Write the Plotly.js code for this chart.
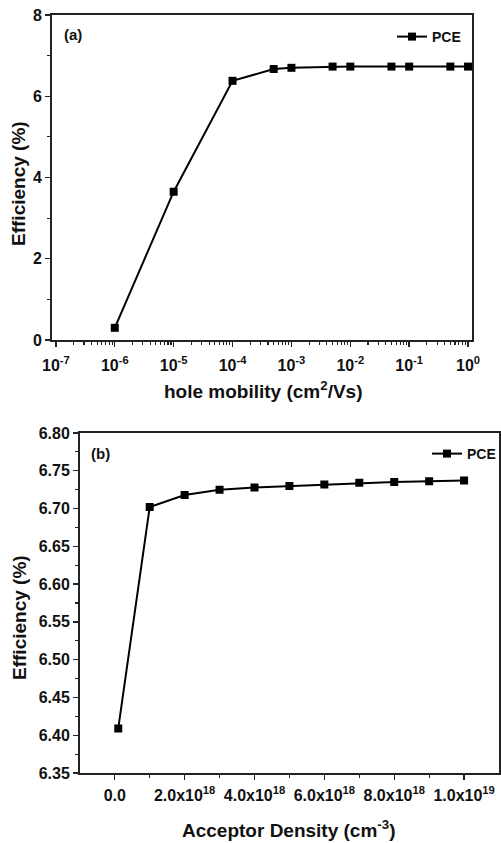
<!DOCTYPE html>
<html>
<head>
<meta charset="utf-8">
<script src="https://cdn.plot.ly/plotly-3.0.1.min.js"></script>
<style>html,body{margin:0;padding:0;background:#fff;}#chart{width:501px;height:843px;}</style>
</head>
<body>
<div id="chart"></div>
<script>
// Panel (a): hole mobility vs efficiency
const mobility = [1e-6, 1e-5, 1e-4, 5e-4, 1e-3, 5e-3, 1e-2, 5e-2, 1e-1, 5e-1, 1];
const pceMobility = [0.30, 3.65, 6.38, 6.67, 6.70, 6.73, 6.73, 6.73, 6.73, 6.73, 6.73];
const mobilityTickVals = [1e-7, 1e-6, 1e-5, 1e-4, 1e-3, 1e-2, 1e-1, 1];
const mobilityTickText = ['10<sup>-7</sup>', '10<sup>-6</sup>', '10<sup>-5</sup>', '10<sup>-4</sup>',
  '10<sup>-3</sup>', '10<sup>-2</sup>', '10<sup>-1</sup>', '10<sup>0</sup>'];

// Panel (b): acceptor density vs efficiency
const acceptorDensity = [1e17, 1e18, 2e18, 3e18, 4e18, 5e18, 6e18, 7e18, 8e18, 9e18, 1e19];
const pceDensity = [6.409, 6.702, 6.718, 6.725, 6.728, 6.730, 6.732, 6.734, 6.735, 6.736, 6.737];
const densityTickVals = [0, 2e18, 4e18, 6e18, 8e18, 1e19];
const densityTickText = ['0.0', '2.0x10<sup>18</sup>', '4.0x10<sup>18</sup>', '6.0x10<sup>18</sup>',
  '8.0x10<sup>18</sup>', '1.0x10<sup>19</sup>'];

const seriesName = 'PCE';
const panelLabels = ['(a)', '(b)'];
const yTitle = 'Efficiency (%)';
const xTitleA = 'hole mobility (cm<sup>2</sup>/Vs)';
const xTitleB = 'Acceptor Density (cm<sup>-3</sup>)';

const W = 501, H = 843;
const FONT = 'Liberation Sans, Arial, Helvetica, sans-serif';
const px = v => v / W;
const py = v => 1 - v / H;

// minor tick positions for log axis
const logMinor = [];
for (let d = -7; d < 0; d++) for (let k = 2; k <= 9; k++) logMinor.push(k * Math.pow(10, d));
const densMinor = [1e18, 3e18, 5e18, 7e18, 9e18];

const traceStyle = {
  mode: 'lines+markers',
  line: {color: '#000', width: 2},
  marker: {symbol: 'square', size: 8, color: '#000'}
};

const data = [
  Object.assign({x: mobility, y: pceMobility, name: seriesName, xaxis: 'x', yaxis: 'y', legend: 'legend'}, traceStyle),
  Object.assign({x: acceptorDensity, y: pceDensity, name: seriesName, xaxis: 'x2', yaxis: 'y2', legend: 'legend2'}, traceStyle)
];

const tickFont = {family: FONT, size: 16, color: '#111', weight: 'bold'};
const axisBase = {
  showline: true, mirror: true, linecolor: '#222', linewidth: 1.8,
  ticks: 'outside', ticklen: 5, tickwidth: 1.4, tickcolor: '#222',
  showgrid: false, zeroline: false, tickfont: tickFont
};
const minorBase = {ticks: 'outside', ticklen: 3, tickwidth: 1.1, tickcolor: '#222', showgrid: false};

const layout = {
  width: W, height: H,
  margin: {l: 0, r: 0, t: 0, b: 0},
  paper_bgcolor: '#fff', plot_bgcolor: '#fff',
  showlegend: true,
  xaxis: Object.assign({}, axisBase, {
    type: 'log', domain: [px(52), px(473)], anchor: 'y',
    range: [-7.068, 0.068], ticklabelstandoff: 5,
    tickmode: 'array', tickvals: mobilityTickVals, ticktext: mobilityTickText,
    minor: Object.assign({tickmode: 'array', tickvals: logMinor}, minorBase)
  }),
  yaxis: Object.assign({}, axisBase, {
    domain: [py(340), py(15)], anchor: 'x',
    range: [0, 8], dtick: 2, tick0: 0,
    minor: Object.assign({dtick: 1}, minorBase)
  }),
  xaxis2: Object.assign({}, axisBase, {
    domain: [px(80), px(500)], anchor: 'y2',
    range: [-1.0e18, 1.1e19], ticklabelstandoff: 2,
    tickmode: 'array', tickvals: densityTickVals, ticktext: densityTickText,
    minor: Object.assign({tickmode: 'array', tickvals: densMinor}, minorBase)
  }),
  yaxis2: Object.assign({}, axisBase, {
    domain: [py(773), py(433)], anchor: 'x2',
    range: [6.35, 6.80], dtick: 0.05, tick0: 6.35, tickformat: '.2f',
    minor: Object.assign({dtick: 0.025}, minorBase)
  }),
  legend: {
    x: px(392), y: py(37), xanchor: 'left', yanchor: 'middle',
    bgcolor: 'rgba(0,0,0,0)', itemwidth: 30,
    font: {family: FONT, size: 14, color: '#111', weight: 'bold'}
  },
  legend2: {
    x: px(428), y: py(454), xanchor: 'left', yanchor: 'middle',
    bgcolor: 'rgba(0,0,0,0)', itemwidth: 30,
    font: {family: FONT, size: 14, color: '#111', weight: 'bold'}
  },
  annotations: [
    {text: panelLabels[0], xref: 'paper', yref: 'paper', x: px(62), y: py(35), xanchor: 'left', yanchor: 'middle',
     showarrow: false, font: {family: FONT, size: 15, color: '#111', weight: 'bold'}},
    {text: panelLabels[1], xref: 'paper', yref: 'paper', x: px(89), y: py(453), xanchor: 'left', yanchor: 'middle',
     showarrow: false, font: {family: FONT, size: 15, color: '#111', weight: 'bold'}},
    {text: yTitle, xref: 'paper', yref: 'paper', x: px(19), y: py(183), xanchor: 'center', yanchor: 'middle',
     textangle: -90, showarrow: false, font: {family: FONT, size: 19, color: '#111', weight: 'bold'}},
    {text: yTitle, xref: 'paper', yref: 'paper', x: px(19), y: py(617), xanchor: 'center', yanchor: 'middle',
     textangle: -90, showarrow: false, font: {family: FONT, size: 19, color: '#111', weight: 'bold'}},
    {text: xTitleA, xref: 'paper', yref: 'paper', x: px(264), y: py(390), xanchor: 'center', yanchor: 'middle',
     showarrow: false, font: {family: FONT, size: 19, color: '#111', weight: 'bold'}},
    {text: xTitleB, xref: 'paper', yref: 'paper', x: px(290), y: py(829), xanchor: 'center', yanchor: 'middle',
     showarrow: false, font: {family: FONT, size: 19, color: '#111', weight: 'bold'}}
  ]
};

Plotly.newPlot('chart', data, layout, {displayModeBar: false, staticPlot: true});
</script>
</body>
</html>
